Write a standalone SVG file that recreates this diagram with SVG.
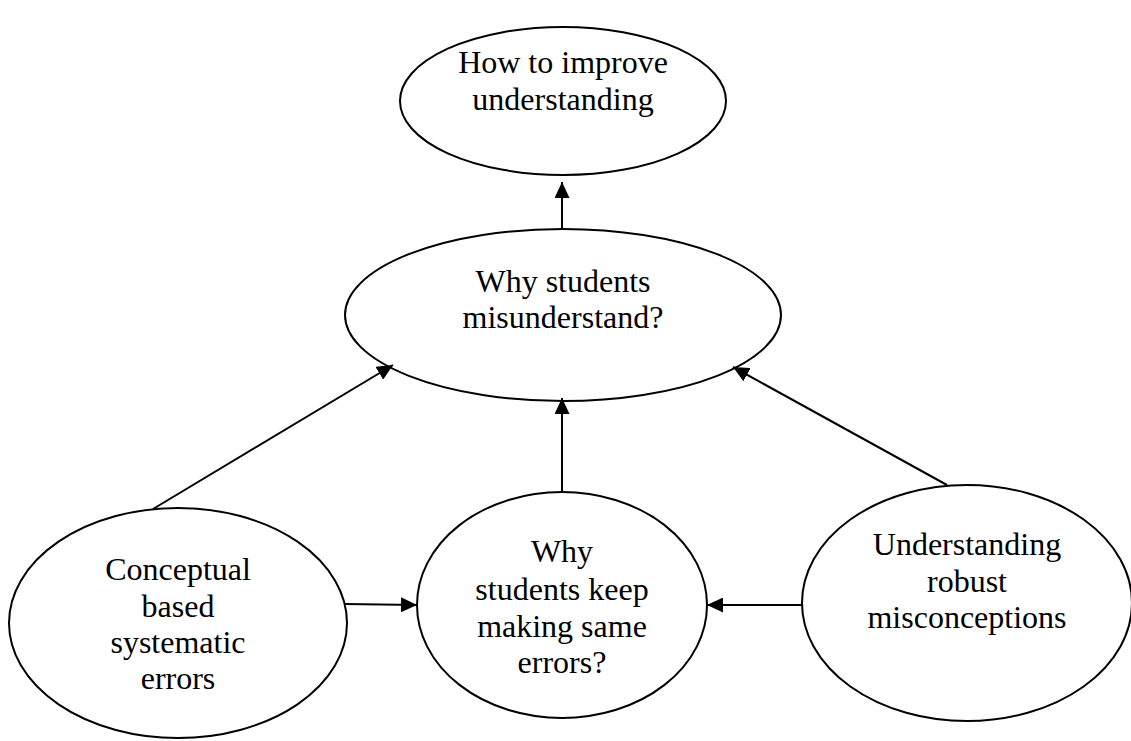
<svg xmlns="http://www.w3.org/2000/svg" width="1131" height="741" viewBox="0 0 1131 741">
<style>
.node{fill:#fff;stroke:#000;stroke-width:2}
.lbl{font-family:"Liberation Serif","Times New Roman",serif;font-size:32px;fill:#000;text-anchor:middle}
.edge{stroke:#000;stroke-width:2;fill:none;marker-end:url(#arr)}
</style>
<defs>
<marker id="arr" markerUnits="userSpaceOnUse" markerWidth="16" markerHeight="15" refX="16" refY="7.5" orient="auto">
<path d="M0,0 L16,7.5 L0,15 Z" fill="#000"/>
</marker>
</defs>
<rect width="1131" height="741" fill="#fff"/>
<g id="n-improve">
<ellipse class="node" cx="563" cy="101" rx="163" ry="74"/>
<text class="lbl" x="563" y="73">How to improve</text>
<text class="lbl" x="563" y="110">understanding</text>
</g>
<g id="n-why">
<ellipse class="node" cx="563" cy="315" rx="218" ry="86"/>
<text class="lbl" x="563" y="292">Why students</text>
<text class="lbl" x="563" y="328">misunderstand?</text>
</g>
<g id="n-conceptual">
<ellipse class="node" cx="178" cy="623" rx="169" ry="115"/>
<text class="lbl" x="178" y="580">Conceptual</text>
<text class="lbl" x="178" y="617">based</text>
<text class="lbl" x="178" y="653">systematic</text>
<text class="lbl" x="178" y="689">errors</text>
</g>
<g id="n-keep">
<ellipse class="node" cx="562" cy="605" rx="145" ry="113"/>
<text class="lbl" x="562" y="562">Why</text>
<text class="lbl" x="562" y="600">students keep</text>
<text class="lbl" x="562" y="637">making same</text>
<text class="lbl" x="562" y="673">errors?</text>
</g>
<g id="n-robust">
<ellipse class="node" cx="967" cy="603" rx="165" ry="118"/>
<text class="lbl" x="967" y="555">Understanding</text>
<text class="lbl" x="967" y="592">robust</text>
<text class="lbl" x="967" y="628">misconceptions</text>
</g>
<g id="connectors">
<line class="edge" x1="562" y1="229" x2="562" y2="182"/>
<line class="edge" x1="153" y1="509" x2="393" y2="365"/>
<line class="edge" x1="562" y1="492" x2="562" y2="398"/>
<line class="edge" x1="947" y1="485" x2="733" y2="367"/>
<line class="edge" x1="345" y1="604" x2="417" y2="605"/>
<line class="edge" x1="802" y1="605" x2="707" y2="605"/>
</g>
</svg>
